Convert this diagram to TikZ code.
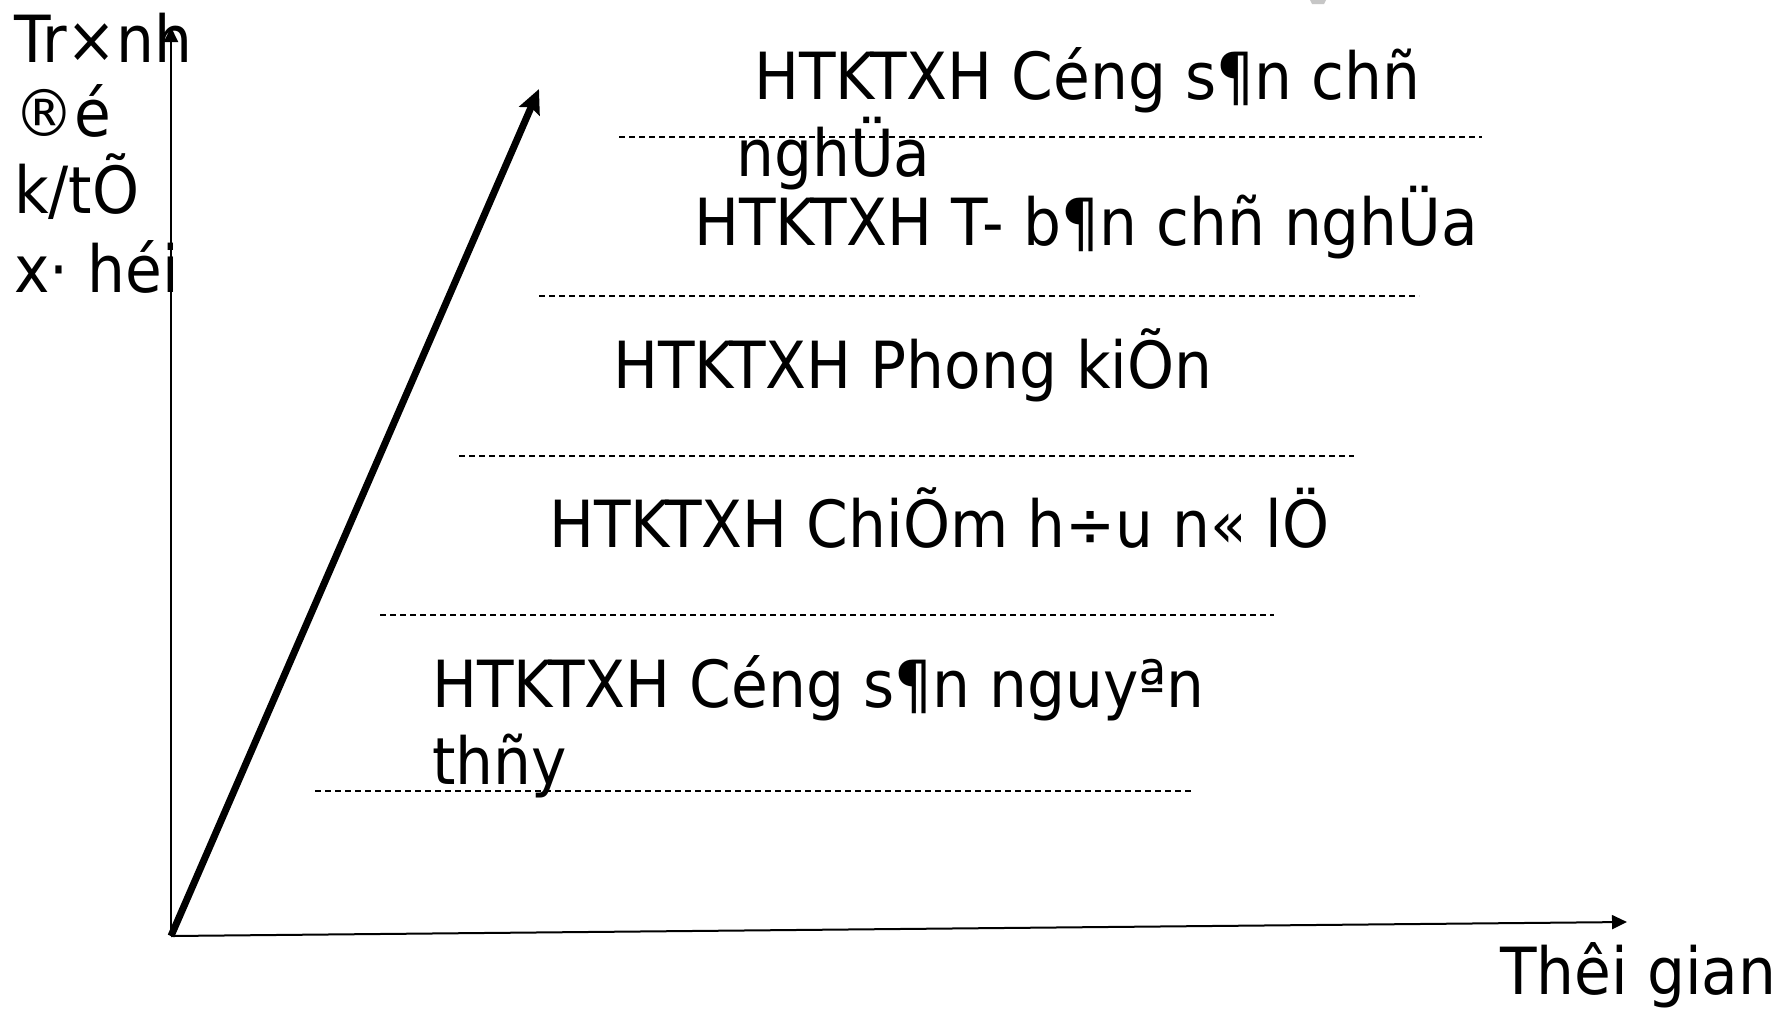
\documentclass[tikz,border=0pt]{standalone}
\usepackage{fontspec}
\setmainfont[FakeStretch=0.92]{DejaVu Sans}
\usetikzlibrary{arrows.meta}
\begin{document}
\begin{tikzpicture}[x=1pt,y=-1pt,
  lbl/.style={anchor=base west, inner sep=0pt, font=\fontsize{65}{78}\selectfont},
  dashline/.style={line width=1.5pt, dash pattern=on 6pt off 4pt},
  axis/.style={line width=2pt, -{Triangle[length=15pt,width=14pt]}},
  trend/.style={line width=7pt, -{Stealth[length=24pt,width=22pt,inset=4pt]}}]
\useasboundingbox[fill=white] (0,0) rectangle (1787,1009);
% axes
\coordinate (O) at (171,936);
\coordinate (ytop) at (171,27);
\coordinate (xend) at (1627,922);
\coordinate (ttip) at (539,89);
\draw[axis] (O) -- (ytop);
\draw[axis] (O) -- (xend);
\draw[trend] (O) -- (ttip);
% dashed separators
\coordinate (d1a) at (619,137); \coordinate (d1b) at (1482,137);
\coordinate (d2a) at (539,296); \coordinate (d2b) at (1419,296);
\coordinate (d3a) at (459,456); \coordinate (d3b) at (1354,456);
\coordinate (d4a) at (380,615); \coordinate (d4b) at (1274,615);
\coordinate (d5a) at (315,791); \coordinate (d5b) at (1194,791);
\draw[dashline] (d1a) -- (d1b);
\draw[dashline] (d2a) -- (d2b);
\draw[dashline] (d3a) -- (d3b);
\draw[dashline] (d4a) -- (d4b);
\draw[dashline] (d5a) -- (d5b);
% y label
\node[lbl] (y1) at (14,62) {Tr×nh};
\node[lbl] (y2) at (14,136) {®é};
\node[lbl] (y3) at (14,213) {k/tÕ};
\node[lbl] (y4) at (14,292) {x· héi};
% x label
\node[lbl] (xl) at (1500,994) {Thêi gian};
% stages
\node[lbl] (s5a) at (754,99) {HTKTXH Céng s¶n chñ};
\node[lbl] (s5b) at (736,176) {nghÜa};
\node[lbl] (s4) at (694,245) {HTKTXH T- b¶n chñ nghÜa};
\node[lbl] (s3) at (613,388) {HTKTXH Phong kiÕn};
\node[lbl] (s2) at (549,547) {HTKTXH ChiÕm h÷u n« lÖ};
\node[lbl] (s1a) at (432,707) {HTKTXH Céng s¶n nguyªn};
\node[lbl] (s1b) at (432,784) {thñy};
% small grey mark at top edge
\fill[gray!45] (1310,0) -- (1326,0) -- (1324,4) -- (1312,4) -- cycle;
\end{tikzpicture}
\end{document}
